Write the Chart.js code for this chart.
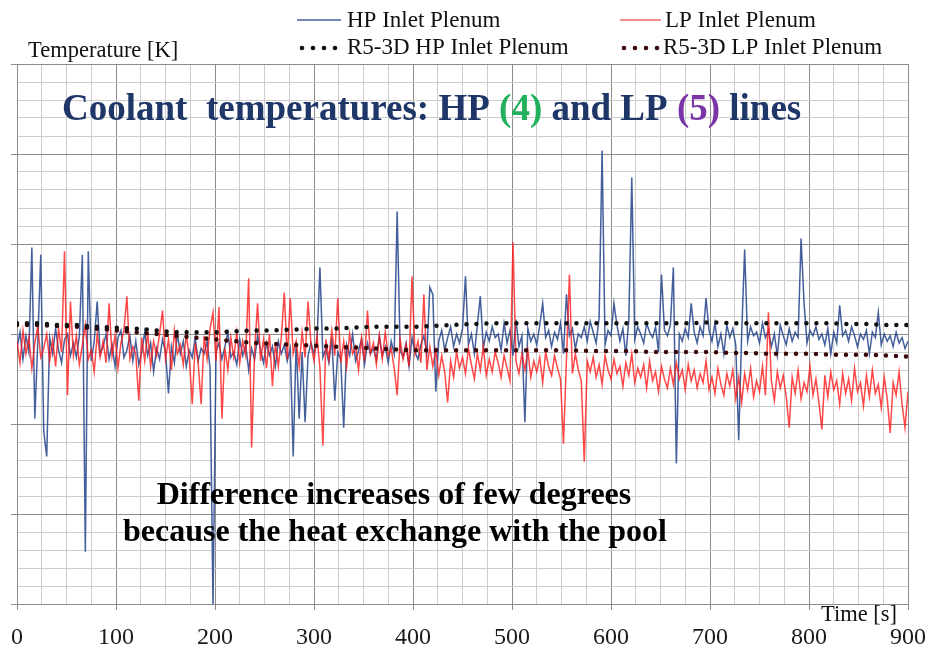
<!DOCTYPE html>
<html>
<head>
<meta charset="utf-8">
<title>Coolant temperatures</title>
<script src="https://cdn.jsdelivr.net/npm/chart.js@4.4.1/dist/chart.umd.min.js"></script>
<style>
  html, body { margin: 0; padding: 0; background: #fff; }
  #wrap { position: relative; width: 928px; height: 648px; }
</style>
</head>
<body>
<div id="wrap"><canvas id="chart" width="928" height="648"></canvas></div>
<script>
// sampling of the measured signals [s]
const sampleStep = 3;

// HP inlet plenum, measured [K]
const hpInlet = [
  594.2, 595.1, 593.6, 594.9, 594.0, 599.8, 590.3, 594.6, 599.4, 589.6,
  588.2, 594.8, 593.9, 595.3, 594.1, 593.4, 594.7, 595.0, 593.8, 594.5,
  593.7, 594.9, 599.4, 582.9, 599.6, 593.5, 594.6, 596.8, 593.9, 594.3,
  595.0, 593.6, 594.4, 593.2, 594.8, 595.2, 593.7, 594.1, 594.9, 593.5,
  594.6, 593.3, 594.0, 595.1, 593.8, 594.5, 592.9, 594.2, 593.6, 594.7,
  594.0, 591.7, 594.3, 593.4, 595.0, 593.9, 594.6, 593.2, 594.1, 593.7,
  594.8, 593.5, 594.2, 593.9, 594.6, 593.1, 579.9, 594.0, 594.5, 593.6,
  594.3, 595.1, 593.7, 594.0, 593.3, 594.7, 593.8, 594.4, 593.0, 594.2,
  593.6, 594.9, 594.1, 593.4, 594.5, 593.8, 594.3, 593.2, 594.6, 593.9,
  594.4, 593.5, 594.2, 588.2, 594.6, 590.3, 594.0, 590.1, 593.8, 594.5,
  593.9, 594.6, 598.7, 593.7, 594.2, 593.4, 594.8, 591.3, 594.0, 593.6,
  589.8, 594.4, 593.8, 595.0, 593.5, 594.1, 594.7, 593.3, 594.5, 593.9,
  594.2, 593.6, 594.9, 593.8, 594.3, 593.4, 594.6, 593.9, 601.8, 594.1,
  593.7, 594.5, 593.2, 594.8, 594.0, 593.6, 594.4, 594.9, 593.9, 597.6,
  597.2, 591.8, 594.6, 595.2, 594.1, 594.8, 595.4, 594.3, 595.0, 594.5,
  595.3, 598.2, 594.4, 595.0, 593.9, 595.5, 597.1, 594.2, 595.1, 594.6,
  595.4, 594.8, 595.0, 594.1, 595.6, 594.5, 595.2, 593.8, 595.8, 594.3,
  594.9, 590.1, 595.3, 594.6, 595.0, 594.4, 595.5, 596.7, 594.8, 595.2,
  594.3, 595.1, 594.7, 595.6, 593.9, 597.2, 594.9, 595.3, 594.2, 595.0,
  594.8, 595.4, 594.6, 595.7, 595.1, 594.5, 595.9, 605.2, 594.4, 595.2,
  594.9, 596.7, 595.5, 594.6, 595.3, 593.8, 595.8, 603.7, 594.7, 595.4,
  595.0, 594.5, 595.6, 595.1, 594.8, 595.4, 594.0, 598.3, 595.2, 594.9,
  595.5, 598.7, 587.8, 595.0, 594.6, 595.3, 594.8, 596.7, 595.1, 594.5,
  595.4, 594.9, 597.0, 595.2, 594.6, 595.6, 594.3, 595.0, 593.9, 595.5,
  594.8, 595.3, 594.4, 589.1, 595.0, 599.7, 594.6, 595.4, 594.9, 595.1,
  594.5, 595.6, 594.8, 595.2, 594.3, 595.0, 593.8, 595.5, 594.9, 594.4,
  595.3, 594.6, 595.1, 594.8, 600.3, 596.7, 594.5, 595.2, 594.9, 595.4,
  594.7, 595.0, 594.4, 595.3, 593.9, 595.1, 594.5, 596.6, 594.9, 595.2,
  594.6, 595.4, 594.9, 594.3, 595.0, 594.7, 595.2, 593.9, 595.1, 594.8,
  596.2, 594.4, 595.0, 594.6, 594.9, 594.3, 595.1, 594.5, 594.8, 594.2,
  594.6
];

// LP inlet plenum, measured [K]
const lpInlet = [
  594.6, 593.4, 595.2, 593.9, 594.8, 593.1, 594.5, 595.4, 593.7, 594.2,
  595.0, 593.5, 594.7, 593.2, 595.3, 594.0, 599.6, 591.6, 596.8, 593.8,
  594.9, 593.3, 594.4, 595.5, 593.6, 594.1, 592.9, 595.0, 593.7, 594.6,
  593.4, 596.7, 593.8, 594.9, 593.1, 594.5, 595.2, 597.1, 593.6, 594.3,
  593.9, 591.3, 594.8, 593.5, 595.1, 593.2, 594.6, 593.8, 595.0, 596.3,
  593.6, 594.7, 593.0, 595.2, 593.9, 594.4, 593.3, 595.0, 593.7, 591.1,
  594.5, 593.4, 591.1, 594.9, 593.6, 595.3, 596.2, 593.5, 596.5, 590.3,
  594.2, 593.0, 594.8, 593.7, 595.1, 593.4, 594.6, 593.8, 598.1, 588.7,
  594.0, 596.7, 593.5, 594.7, 593.1, 595.0, 592.1, 594.5, 593.2, 594.8,
  597.3, 593.6, 597.0, 593.9, 594.6, 593.2, 595.1, 593.7, 596.8, 594.4,
  593.5, 594.9, 593.1, 588.8, 594.7, 593.6, 595.2, 593.8, 597.0, 593.4,
  594.6, 593.2, 595.0, 593.9, 594.3, 593.0, 594.8, 593.5, 596.3, 593.9,
  594.5, 593.3, 594.9, 593.6, 595.1, 593.8, 594.2, 593.1, 591.6, 594.7,
  593.6, 594.4, 593.2, 598.2, 593.9, 594.6, 593.4, 597.2, 593.0, 594.3,
  593.2, 594.1, 592.7, 593.8, 592.9, 591.2, 593.5, 592.6, 594.0, 593.1,
  593.7, 592.8, 594.2, 593.3, 592.5, 593.9, 593.0, 594.3, 592.7, 593.6,
  592.9, 594.0, 593.4, 592.6, 593.8, 593.1, 592.4, 600.1, 593.5, 592.8,
  593.9, 593.0, 594.1, 592.6, 593.5, 592.9, 593.7, 592.3, 594.0, 593.2,
  592.7, 593.8, 593.1, 592.5, 588.9, 593.6, 598.3, 592.8, 593.9, 593.0,
  592.4, 587.9, 593.5, 592.9, 593.7, 592.6, 593.3, 592.2, 593.8, 593.0,
  592.5, 593.6, 592.8, 593.2, 592.1, 593.4, 592.7, 593.9, 592.3, 593.1,
  592.6, 593.3, 592.0, 593.5, 592.4, 592.9, 591.8, 593.2, 592.5, 592.0,
  593.1, 592.2, 593.4, 592.5, 593.0, 591.9, 593.3, 592.4, 593.0, 592.0,
  592.8, 592.3, 593.5, 591.9, 592.6, 591.7, 593.1, 592.2, 591.6, 592.8,
  592.1, 593.0, 591.4, 592.6, 591.2, 592.8, 591.9, 593.1, 591.5, 592.4,
  591.8, 593.2, 591.6, 596.2, 592.4, 591.3, 592.9, 592.0, 592.7, 591.5,
  589.8, 592.6, 591.7, 593.0, 591.4, 592.3, 591.8, 593.2, 591.6, 592.5,
  591.2, 589.7, 592.7, 591.5, 592.9, 591.9, 592.4, 591.1, 592.8, 591.7,
  592.5, 591.3, 593.1, 591.8, 592.3, 591.0, 592.7, 591.5, 593.0, 591.7,
  592.2, 590.9, 592.6, 591.4, 589.5, 592.3, 591.6, 592.9, 591.1, 589.8,
  591.8
];

// RELAP5-3D results, every 20 s [K]
const r5Step = 20;
const r5Hp = [
  595.6, 595.6, 595.5, 595.5, 595.4, 595.35, 595.3, 595.2, 595.1, 595.1,
  595.1, 595.15, 595.2, 595.2, 595.25, 595.3, 595.3, 595.35, 595.4, 595.4,
  595.4, 595.45, 595.5, 595.55, 595.6, 595.6, 595.6, 595.6, 595.6, 595.6,
  595.6, 595.6, 595.6, 595.6, 595.6, 595.65, 595.6, 595.6, 595.6, 595.6,
  595.6, 595.6, 595.55, 595.55, 595.5, 595.5
];
const r5Lp = [
  595.5, 595.5, 595.45, 595.4, 595.3, 595.2, 595.1, 595.0, 594.9, 594.8,
  594.7, 594.6, 594.5, 594.45, 594.4, 594.35, 594.3, 594.25, 594.2, 594.15,
  594.1, 594.1, 594.1, 594.1, 594.1, 594.1, 594.1, 594.1, 594.1, 594.05,
  594.05, 594.05, 594.0, 594.0, 594.0, 594.0, 593.95, 593.95, 593.9, 593.9,
  593.9, 593.85, 593.85, 593.85, 593.8, 593.75
];

// axis ranges / grid steps
const timeRange = [0, 900];
const tempRange = [580, 610];
const timeMinor = 25, timeMajor = 100;
const tempMinor = 1, tempMajor = 5;

const hpColor = 'rgba(48, 78, 145, 0.9)';
const lpColor = 'rgba(255, 20, 20, 0.78)';
const r5HpColor = '#111111';
const r5LpColor = '#3a0808';
const majorGrid = '#8c8c8c';
const minorGrid = '#cdcdcd';
const serif = '"Liberation Serif", "Times New Roman", serif';

function toPoints(values, step) {
    return values.map((v, i) => ({ x: i * step, y: v }));
}

// legend, axis captions and annotations on top of the plot
const overlayText = {
    id: 'overlayText',
    afterDraw(chart) {
        const ctx = chart.ctx;
        ctx.save();
        ctx.textBaseline = 'middle';
        ctx.textAlign = 'left';

        // legend, two rows
        ctx.font = '23px ' + serif;
        ctx.fillStyle = '#111';
        ctx.lineWidth = 1.5;
        ctx.strokeStyle = hpColor;
        ctx.beginPath(); ctx.moveTo(297, 20); ctx.lineTo(341, 20); ctx.stroke();
        ctx.fillText('HP Inlet Plenum', 347, 21);
        ctx.strokeStyle = 'rgba(240, 90, 90, 0.9)';
        ctx.beginPath(); ctx.moveTo(620, 20); ctx.lineTo(661, 20); ctx.stroke();
        ctx.fillText('LP Inlet Plenum', 665, 21);

        const dots = (x0, color) => {
            ctx.fillStyle = color;
            for (let k = 0; k < 4; k++) {
                ctx.beginPath();
                ctx.arc(x0 + k * 11, 48, 2.3, 0, Math.PI * 2);
                ctx.fill();
            }
        };
        dots(302, r5HpColor);
        dots(624, r5LpColor);
        ctx.fillStyle = '#111';
        ctx.fillText('R5-3D HP Inlet Plenum', 347, 48);
        ctx.fillText('R5-3D LP Inlet Plenum', 663, 48);

        // axis captions
        ctx.font = '22.5px ' + serif;
        ctx.fillText('Temperature [K]', 28, 51);
        ctx.fillText('Time [s]', 821, 615);

        // heading inside the plot, with coloured line numbers
        ctx.font = 'bold 37px ' + serif;
        const parts = [
            ['Coolant  temperatures: HP ', '#1f3668'],
            ['(4)', '#22b05a'],
            [' and LP ', '#1f3668'],
            ['(5)', '#7a35a8'],
            [' lines', '#1f3668']
        ];
        let x = 62;
        parts.forEach(([txt, col]) => {
            ctx.fillStyle = col;
            ctx.fillText(txt, x, 110);
            x += ctx.measureText(txt).width;
        });

        // comment below the curves
        ctx.fillStyle = '#000';
        ctx.textAlign = 'center';
        ctx.font = 'bold 32px ' + serif;
        ctx.fillText('Difference increases of few degrees', 394, 496);
        ctx.fillText('because the heat exchange with the pool', 395, 533);
        ctx.restore();
    }
};

const ctx = document.getElementById('chart').getContext('2d');

new Chart(ctx, {
    type: 'line',
    data: {
        datasets: [
            {
                label: 'R5-3D HP Inlet Plenum',
                data: toPoints(r5Hp, r5Step),
                borderColor: r5HpColor,
                borderWidth: 4.5,
                borderDash: [0, 10],
                borderCapStyle: 'round',
                pointRadius: 0
            },
            {
                label: 'R5-3D LP Inlet Plenum',
                data: toPoints(r5Lp, r5Step),
                borderColor: r5LpColor,
                borderWidth: 4.5,
                borderDash: [0, 10],
                borderCapStyle: 'round',
                pointRadius: 0
            },
            {
                label: 'LP Inlet Plenum',
                data: toPoints(lpInlet, sampleStep),
                borderColor: lpColor,
                borderWidth: 1.5,
                pointRadius: 0
            },
            {
                label: 'HP Inlet Plenum',
                data: toPoints(hpInlet, sampleStep),
                borderColor: hpColor,
                borderWidth: 1.5,
                pointRadius: 0
            }
        ]
    },
    options: {
        responsive: false,
        animation: false,
        events: [],
        devicePixelRatio: 1,
        layout: {
            padding: { left: 11, top: 64, right: 20, bottom: 0 }
        },
        plugins: {
            legend: { display: false },
            tooltip: { enabled: false }
        },
        scales: {
            x: {
                type: 'linear',
                min: timeRange[0],
                max: timeRange[1],
                border: { color: majorGrid },
                grid: {
                    color: c => (c.tick.value % timeMajor === 0 ? majorGrid : minorGrid),
                    tickColor: c => (c.tick.value % timeMajor === 0 ? majorGrid : 'rgba(0,0,0,0)'),
                    tickLength: 6
                },
                ticks: {
                    stepSize: timeMinor,
                    autoSkip: false,
                    maxRotation: 0,
                    padding: 13,
                    color: '#1a1a1a',
                    font: { family: serif, size: 24 },
                    callback: v => (v % timeMajor === 0 ? v : '')
                },
                // fixed axis band so the plot frame stays put
                afterFit: s => {
                    s.height = 44;
                    s.paddingLeft = 0;
                    s.paddingRight = 0;
                }
            },
            y: {
                min: tempRange[0],
                max: tempRange[1],
                border: { color: majorGrid },
                grid: {
                    color: c => ((c.tick.value - tempRange[0]) % tempMajor === 0 ? majorGrid : minorGrid),
                    tickColor: c => ((c.tick.value - tempRange[0]) % tempMajor === 0 ? majorGrid : 'rgba(0,0,0,0)'),
                    tickLength: 6
                },
                ticks: {
                    stepSize: tempMinor,
                    display: false
                },
                afterFit: s => {
                    s.width = 6;
                    s.paddingTop = 0;
                    s.paddingBottom = 0;
                }
            }
        }
    },
    plugins: [overlayText]
});
</script>
</body>
</html>
